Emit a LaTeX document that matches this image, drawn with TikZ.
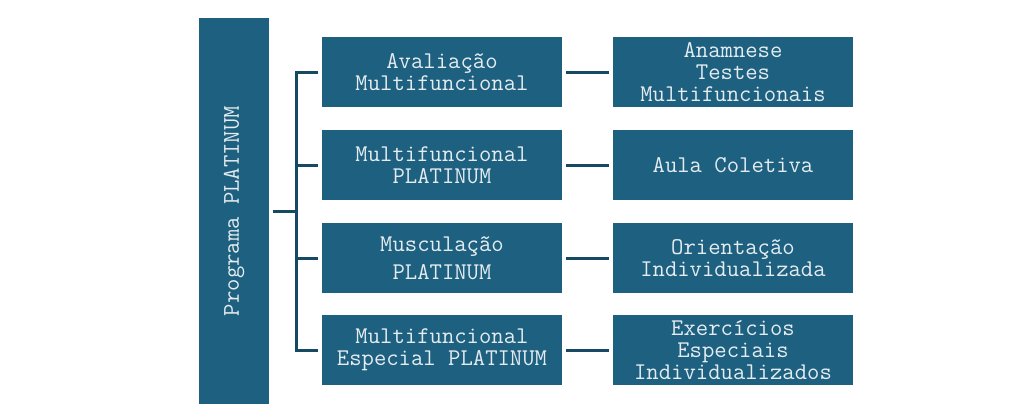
\documentclass[tikz,border=0pt]{standalone}
\usepackage{fontspec}
\usepackage{tikz}

\definecolor{boxblue}{RGB}{30,96,128}
\definecolor{lineblue}{RGB}{22,74,100}
\definecolor{boxtext}{RGB}{228,236,240}

\begin{document}
\begin{tikzpicture}[x=0.75pt, y=-0.75pt,
	box/.style={shape=rectangle, fill=boxblue, text=boxtext, align=center, inner sep=0pt,
		minimum width=180pt, minimum height=52.5pt,
		font=\ttfamily\fontsize{18pt}{16.5pt}\selectfont},
	link/.style={-, draw=lineblue, line width=2.25pt}]
	
	\useasboundingbox (0,0) rectangle (1024,412);
	
	\node[box, rotate=90, minimum width=289.5pt, minimum height=52.5pt] (prog) at (234, 211) {Programa PLATINUM};
	
	\node[box] (m1) at (442, 72)  {Avaliação\\Multifuncional};
	\node[box] (m2) at (442, 165) {Multifuncional\\PLATINUM};
	\node[box] (m3) at (442, 258) {Musculação\\[4.5pt]PLATINUM};
	\node[box] (m4) at (442, 350) {Multifuncional\\Especial PLATINUM};
	
	\node[box] (r1) at (733, 72)  {Anamnese\\Testes\\Multifuncionais};
	\node[box] (r2) at (733, 165) {Aula Coletiva};
	\node[box] (r3) at (733, 258) {Orientação\\Individualizada};
	\node[box] (r4) at (733, 350) {Exercícios\\Especiais\\Individualizados};
	
	\coordinate (t0) at (296, 211);
	\coordinate (t1) at (296, 72);
	\coordinate (t4) at (296, 350);
	
	\path[link, shorten <=3pt] (prog) edge (t0);
	\path[link, line cap=rect] (t1) edge (t4);
	\path[link, shorten >=3pt] (t1) edge (m1);
	\path[link, shorten >=3pt] (296, 165) edge (m2);
	\path[link, shorten >=3pt] (296, 258) edge (m3);
	\path[link, shorten >=3pt] (t4) edge (m4);
	
	\path[link, shorten <=3pt, shorten >=3pt] (m1) edge (r1);
	\path[link, shorten <=3pt, shorten >=3pt] (m2) edge (r2);
	\path[link, shorten <=3pt, shorten >=3pt] (m3) edge (r3);
	\path[link, shorten <=3pt, shorten >=3pt] (m4) edge (r4);
	
\end{tikzpicture}
\end{document}
